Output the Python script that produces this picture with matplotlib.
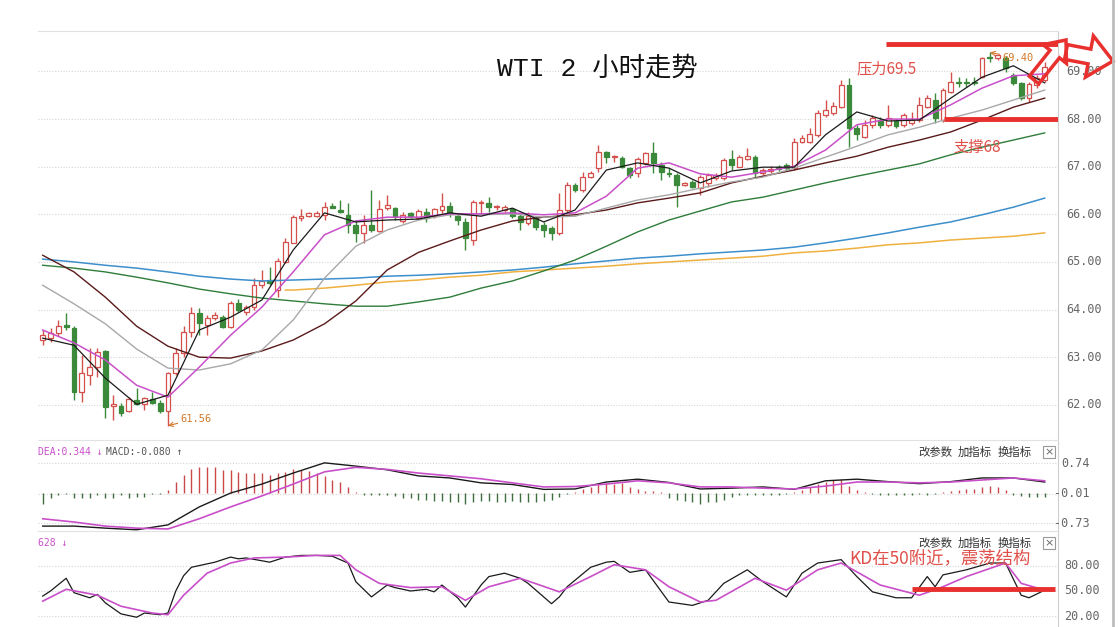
import numpy as np
import matplotlib
matplotlib.use("Agg")
import matplotlib.pyplot as plt
from matplotlib.patches import FancyArrow, Rectangle
from matplotlib.transforms import IdentityTransform, blended_transform_factory

plt.rcParams['font.family'] = ['Noto Sans CJK SC', 'DejaVu Sans']

# ---- candles (2h bars) ----
opens = [63.36, 63.40, 63.51, 63.67, 63.61, 62.27, 62.62, 62.79, 63.13, 61.97,
         61.97, 61.87, 62.10, 62.01, 62.12, 62.04, 61.87, 62.67, 63.09, 63.53,
         63.93, 63.67, 63.82, 63.84, 63.63, 64.14, 63.95, 64.05, 64.51, 64.62,
         64.41, 65.00, 65.40, 65.92, 65.96, 65.96, 65.99, 66.17, 66.09, 65.99,
         65.78, 65.61, 65.78, 65.65, 66.13, 66.13, 65.86, 66.03, 65.92, 66.05,
         65.96, 66.09, 66.17, 65.96, 65.84, 65.46, 66.24, 66.24, 66.15, 66.09,
         66.11, 65.96, 65.82, 65.92, 65.78, 65.71, 65.61, 66.09, 66.62, 66.51,
         66.78, 66.97, 67.31, 67.20, 67.18, 66.97, 66.87, 67.08, 67.29, 67.04,
         66.87, 66.83, 66.62, 66.68, 66.55, 66.66, 66.76, 66.76, 67.16, 66.99,
         67.16, 67.20, 66.87, 66.91, 66.99, 67.04, 66.97, 67.52, 67.52, 67.67,
         68.09, 68.13, 68.25, 68.72, 67.81, 67.62, 67.88, 67.98, 67.88, 67.96,
         67.88, 67.92, 67.98, 68.25, 68.40, 67.98, 68.57, 68.78, 68.78, 68.78,
         68.88, 69.30, 69.28, 69.28, 68.93, 68.76, 68.44, 68.72, 68.82]
highs = [63.57, 63.61, 63.78, 63.93, 63.65, 63.04, 63.19, 63.19, 63.15, 62.20,
         62.04, 62.16, 62.35, 62.16, 62.27, 62.10, 62.69, 63.19, 63.65, 64.05,
         64.03, 63.88, 63.95, 63.88, 64.18, 64.22, 64.10, 64.66, 64.83, 64.89,
         65.08, 65.50, 65.99, 66.11, 66.05, 66.07, 66.26, 66.24, 66.30, 66.24,
         65.88, 65.99, 66.51, 66.30, 66.41, 66.15, 66.05, 66.05, 66.11, 66.13,
         66.13, 66.45, 66.26, 66.03, 65.92, 66.30, 66.30, 66.36, 66.20, 66.20,
         66.13, 66.03, 66.05, 65.96, 65.84, 65.76, 66.45, 66.68, 66.66, 66.89,
         66.91, 67.46, 67.33, 67.25, 67.22, 66.99, 67.20, 67.31, 67.52, 67.10,
         66.97, 66.87, 66.68, 66.72, 66.83, 66.87, 66.87, 67.18, 67.35, 67.25,
         67.39, 67.25, 66.97, 67.01, 67.04, 67.08, 67.60, 67.67, 67.81, 68.19,
         68.40, 68.36, 68.82, 68.86, 67.88, 67.98, 68.09, 68.04, 68.30, 68.00,
         68.13, 68.15, 68.46, 68.51, 68.55, 68.65, 68.99, 68.88, 68.86, 68.88,
         69.30, 69.40, 69.35, 69.33, 68.97, 68.78, 68.78, 68.93, 69.20]
lows = [63.25, 63.32, 63.44, 63.57, 62.10, 62.06, 62.41, 62.58, 61.72, 61.68,
        61.77, 61.85, 61.99, 61.89, 62.01, 61.83, 61.56, 62.62, 63.00, 63.42,
        63.46, 63.46, 63.78, 63.61, 63.61, 63.95, 63.88, 63.99, 64.45, 64.51,
        64.26, 64.98, 65.40, 65.86, 65.94, 65.94, 65.88, 66.13, 66.03, 65.61,
        65.42, 65.40, 65.63, 65.63, 66.09, 65.88, 65.82, 65.92, 65.88, 65.84,
        65.92, 66.03, 65.94, 65.78, 65.25, 65.36, 65.99, 66.05, 66.09, 66.05,
        65.92, 65.67, 65.78, 65.67, 65.52, 65.46, 65.56, 66.05, 66.47, 66.47,
        66.76, 66.89, 67.08, 67.10, 66.97, 66.76, 66.78, 67.04, 66.87, 66.72,
        66.78, 66.15, 66.60, 66.55, 66.41, 66.57, 66.72, 66.72, 66.93, 66.99,
        67.14, 66.78, 66.83, 66.87, 66.91, 66.93, 66.93, 67.50, 67.50, 67.62,
        68.04, 68.09, 68.23, 67.41, 67.56, 67.60, 67.81, 67.81, 67.84, 67.81,
        67.84, 67.88, 67.94, 68.23, 67.92, 67.94, 68.55, 68.67, 68.67, 68.72,
        68.86, 69.20, 69.24, 68.99, 68.72, 68.40, 68.36, 68.65, 68.78]
closes = [63.46, 63.51, 63.65, 63.63, 62.27, 62.67, 62.79, 63.11, 61.95, 62.01,
          61.83, 62.12, 62.01, 62.14, 62.04, 61.87, 62.67, 63.09, 63.53, 63.93,
          63.72, 63.82, 63.88, 63.63, 64.14, 63.99, 64.05, 64.51, 64.60, 64.56,
          65.02, 65.42, 65.94, 65.96, 66.03, 66.03, 66.15, 66.13, 66.05, 65.78,
          65.61, 65.78, 65.67, 66.11, 66.20, 65.94, 65.99, 65.96, 66.07, 65.92,
          66.11, 66.17, 66.03, 65.88, 65.50, 66.26, 66.26, 66.15, 66.17, 66.15,
          65.96, 65.84, 65.96, 65.73, 65.67, 65.61, 66.09, 66.62, 66.51, 66.78,
          66.87, 67.31, 67.20, 67.22, 66.99, 66.83, 67.16, 67.29, 67.08, 66.89,
          66.85, 66.62, 66.66, 66.57, 66.78, 66.83, 66.83, 67.14, 67.04, 67.20,
          67.22, 66.87, 66.93, 66.95, 66.95, 66.97, 67.52, 67.60, 67.69, 68.13,
          68.19, 68.28, 68.72, 67.81, 67.69, 67.88, 68.02, 67.88, 68.02, 67.86,
          68.09, 67.98, 68.30, 68.44, 68.02, 68.61, 68.78, 68.76, 68.76, 68.76,
          69.28, 69.28, 69.35, 69.07, 68.76, 68.44, 68.74, 68.86, 69.10]

# ---- moving averages, read every 4 bars ----
ma_idx = list(range(0, 129, 4))
ma5 = [63.40, 63.25, 62.56, 62.01, 62.20, 63.57, 63.84, 64.20, 65.25, 66.03, 65.84,
       65.88, 65.90, 66.03, 65.96, 66.13, 65.84, 66.09, 66.93, 67.08, 66.97, 66.66,
       66.91, 66.99, 66.99, 67.67, 68.15, 67.96, 67.98, 68.44, 68.88, 69.12, 68.76]
ma10 = [63.57, 63.30, 62.94, 62.41, 62.16, 62.79, 63.46, 64.05, 64.79, 65.57, 65.86,
        65.94, 65.94, 66.01, 66.01, 66.03, 65.99, 66.03, 66.38, 66.97, 67.08, 66.85,
        66.78, 66.89, 67.01, 67.35, 67.88, 68.00, 68.00, 68.30, 68.65, 68.91, 68.95]
ma20 = [64.51, 64.12, 63.70, 63.17, 62.77, 62.73, 62.86, 63.15, 63.78, 64.66, 65.33,
        65.67, 65.88, 65.99, 65.99, 66.01, 65.94, 65.96, 66.13, 66.30, 66.41, 66.55,
        66.68, 66.78, 66.97, 67.20, 67.43, 67.67, 67.83, 68.02, 68.19, 68.40, 68.61]
ma30 = [65.14, 64.79, 64.26, 63.65, 63.23, 63.00, 62.98, 63.13, 63.36, 63.70, 64.18,
        64.83, 65.20, 65.44, 65.67, 65.86, 65.94, 65.99, 66.09, 66.24, 66.34, 66.45,
        66.66, 66.80, 66.93, 67.08, 67.22, 67.41, 67.56, 67.73, 67.98, 68.25, 68.44]
ma60 = [64.93, 64.87, 64.79, 64.68, 64.56, 64.43, 64.33, 64.24, 64.18, 64.12, 64.07,
        64.07, 64.16, 64.26, 64.45, 64.60, 64.81, 65.04, 65.33, 65.63, 65.88, 66.07,
        66.26, 66.36, 66.51, 66.66, 66.80, 66.93, 67.06, 67.25, 67.41, 67.56, 67.71]
ma120 = [65.06, 65.00, 64.93, 64.87, 64.79, 64.70, 64.64, 64.60, 64.62, 64.64, 64.66,
         64.70, 64.72, 64.75, 64.79, 64.83, 64.89, 64.96, 65.02, 65.08, 65.12, 65.17,
         65.21, 65.25, 65.31, 65.40, 65.50, 65.61, 65.73, 65.84, 65.99, 66.15, 66.34]
ma250_idx = [31] + list(range(32, 129, 4))
ma250 = [64.41, 64.41, 64.45, 64.51, 64.58, 64.62, 64.68, 64.72, 64.79, 64.83, 64.87,
         64.91, 64.96, 65.00, 65.04, 65.08, 65.12, 65.19, 65.23, 65.29, 65.36, 65.40,
         65.46, 65.50, 65.54, 65.61]

# ---- MACD ----
dif = [-0.80, -0.80, -0.85, -0.89, -0.77, -0.33, 0.01, 0.23, 0.50, 0.75, 0.67,
       0.58, 0.43, 0.38, 0.26, 0.22, 0.10, 0.11, 0.28, 0.35, 0.27, 0.11,
       0.13, 0.16, 0.10, 0.31, 0.35, 0.29, 0.24, 0.29, 0.38, 0.38, 0.28]
dea = [-0.62, -0.70, -0.80, -0.85, -0.87, -0.62, -0.33, -0.06, 0.23, 0.53, 0.64,
       0.59, 0.50, 0.43, 0.36, 0.26, 0.16, 0.17, 0.23, 0.31, 0.26, 0.16,
       0.16, 0.13, 0.11, 0.18, 0.28, 0.28, 0.26, 0.28, 0.33, 0.38, 0.31]
macd_hist = [-0.26, -0.10, -0.03, -0.01, -0.10, -0.10, -0.10, -0.04, -0.10, -0.12,
             -0.05, -0.12, -0.08, -0.08, -0.02, -0.01, 0.08, 0.29, 0.45, 0.61,
             0.64, 0.65, 0.64, 0.57, 0.57, 0.53, 0.49, 0.51, 0.49, 0.45,
             0.49, 0.53, 0.59, 0.57, 0.55, 0.51, 0.42, 0.33, 0.29, 0.16,
             0.04, -0.03, -0.04, -0.05, -0.05, -0.07, -0.10, -0.12, -0.15, -0.17,
             -0.18, -0.18, -0.20, -0.22, -0.25, -0.20, -0.18, -0.18, -0.20, -0.20,
             -0.18, -0.20, -0.22, -0.20, -0.18, -0.16, -0.08, -0.02, 0.03, 0.10,
             0.15, 0.22, 0.25, 0.22, 0.25, 0.15, 0.10, 0.07, 0.05, 0.03,
             -0.10, -0.15, -0.18, -0.20, -0.25, -0.20, -0.20, -0.15, -0.08, -0.04,
             -0.03, -0.03, -0.05, -0.03, -0.04, -0.02, 0.03, 0.08, 0.15, 0.22,
             0.28, 0.33, 0.35, 0.18, 0.08, 0.03, -0.02, -0.04, -0.03, -0.05,
             -0.04, -0.03, -0.02, -0.04, -0.02, 0.03, 0.05, 0.08, 0.10, 0.12,
             0.15, 0.18, 0.15, 0.08, -0.03, -0.06, -0.08, -0.08, -0.08]

# ---- KD ----
k_idx = [0, 1, 3, 4, 6, 7, 8, 10, 12, 13, 15, 16, 17, 18, 19, 22, 24, 25, 26, 29, 31,
         33, 35, 37, 39, 40, 42, 44, 45, 47, 49, 50, 51, 53, 54, 56, 57, 59, 61, 62,
         65, 66, 67, 70, 72, 73, 75, 77, 80, 83, 85, 87, 90, 92, 95, 97, 99, 102, 104,
         106, 109, 111, 113, 114, 115, 118, 121, 123, 125, 126, 128]
k_val = [44, 50, 65, 48, 42, 46, 36, 23, 19, 24, 22, 24, 50, 68, 78, 84, 90, 88, 89, 84, 90,
         92, 92, 91, 83, 61, 43, 57, 54, 50, 52, 49, 57, 42, 31, 57, 67, 71, 65, 59,
         35, 43, 55, 78, 84, 85, 72, 75, 37, 33, 39, 59, 75, 61, 43, 71, 83, 87, 67,
         49, 42, 42, 67, 55, 69, 75, 83, 83, 45, 42, 51]
d_idx = [0, 3, 7, 10, 14, 16, 18, 21, 24, 27, 31, 35, 38, 40, 43, 47, 51, 54, 57, 61,
         66, 70, 73, 77, 80, 84, 86, 91, 95, 99, 102, 107, 112, 115, 118, 123, 125, 128]
d_val = [38, 52, 45, 32, 24, 22, 45, 71, 83, 89, 90, 92, 92, 75, 59, 54, 55, 39, 55, 65,
         49, 67, 81, 75, 55, 37, 39, 65, 51, 75, 83, 57, 45, 55, 67, 83, 59, 51]

price_ticks = [62, 63, 64, 65, 66, 67, 68, 69]
macd_ticks = [0.74, -0.01, -0.73]
kd_ticks = [80, 50, 20]

RED = '#d4504c'
GREEN = '#3b8a3b'
MARK = '#e8302e'
ORANGE = '#d2782a'
MAG = '#c94fc9'

W, H = 1120, 627
fig = plt.figure(figsize=(W / 100, H / 100), dpi=100)


def box(x0, x1, y0, y1):
    # pixel box (top-left origin) -> figure fraction rect
    return [x0 / W, 1 - y1 / H, (x1 - x0) / W, (y1 - y0) / H]


ax = fig.add_axes(box(38, 1058, 31, 440))
ax_m = fig.add_axes(box(38, 1058, 440, 531), sharex=ax)
ax_k = fig.add_axes(box(38, 1058, 531, 627), sharex=ax)

idx = np.arange(len(opens))
o, h, l, c = (np.array(a) for a in (opens, highs, lows, closes))
up = c >= o
bottom = np.minimum(o, c)
body = np.maximum(np.abs(c - o), 0.012)

ax.vlines(idx[up], l[up], h[up], color=RED, lw=1, zorder=2)
ax.vlines(idx[~up], l[~up], h[~up], color=GREEN, lw=1, zorder=2)
ax.bar(idx[up], body[up], bottom=bottom[up], width=0.62, facecolor='white',
       edgecolor=RED, lw=0.9, zorder=3)
ax.bar(idx[~up], body[~up], bottom=bottom[~up], width=0.62, facecolor=GREEN,
       edgecolor=GREEN, lw=0.9, zorder=3)

ax.plot(ma_idx, ma120, color='#3d8fcc', lw=1.1, zorder=4)
ax.plot(ma250_idx, ma250, color='#f0b040', lw=1.1, zorder=4)
ax.plot(ma_idx, ma60, color='#2f7d3a', lw=1.0, zorder=4)
ax.plot(ma_idx, ma30, color='#5a1a1a', lw=1.0, zorder=4)
ax.plot(ma_idx, ma20, color='#a8a8a8', lw=1.0, zorder=4)
ax.plot(ma_idx, ma10, color=MAG, lw=1.1, zorder=4)
ax.plot(ma_idx, ma5, color='#1a1a1a', lw=0.9, zorder=4)

ax.set_xlim(-0.6, 129.7)
ax.set_ylim(61.26, 69.85)

# support / resistance marks
ax.hlines(69.58, 107.7, 129.7, color=MARK, lw=3.5, zorder=6)
ax.hlines(68.0, 115.2, 129.7, color=MARK, lw=3.5, zorder=6)
ax.text(104.0, 69.06, '压力69.5', color='#e0504a', fontsize=11, va='center', zorder=7)
ax.text(116.3, 67.40, '支撑68', color='#e0504a', fontsize=11, va='center', zorder=7)

ax.annotate('61.56', xy=(16, 61.56), xytext=(9, 5), textcoords='offset points',
            color=ORANGE, fontsize=7.5, family='DejaVu Sans Mono', va='center',
            arrowprops=dict(arrowstyle='->', color=ORANGE, lw=0.8, shrinkA=0, shrinkB=0))
ax.annotate('69.40', xy=(121, 69.40), xytext=(9, -4), textcoords='offset points',
            color=ORANGE, fontsize=7.5, family='DejaVu Sans Mono', va='center',
            arrowprops=dict(arrowstyle='->', color=ORANGE, lw=0.8, shrinkA=0, shrinkB=0))

# MACD panel
hist = np.array(macd_hist)
ax_m.vlines(idx, 0, hist, colors=np.where(hist >= 0, '#c94848', '#3f6f3f'), lw=1)
ax_m.plot(ma_idx, dif, color='#1a1a1a', lw=1.0)
ax_m.plot(ma_idx, dea, color=MAG, lw=1.2)
ax_m.set_ylim(-0.92, 1.31)

# KD panel
ax_k.plot(k_idx, k_val, color='#1a1a1a', lw=0.9)
ax_k.plot(d_idx, d_val, color=MAG, lw=1.2)
ax_k.hlines(52.4, 111, 129.3, color=MARK, lw=3.5, zorder=6)
ax_k.text(103.0, 89, 'KD在50附近，震荡结构', color='#e0504a', fontsize=12.5, va='center')
ax_k.set_ylim(7.5, 120.8)

mono = 'DejaVu Sans Mono'
for a, ticks, fmt, xpos, ha in ((ax, price_ticks, '%.2f', 1066, 'left'),
                                (ax_m, macd_ticks, '%.2f', 1090, 'right'),
                                (ax_k, kd_ticks, '%.2f', 1064, 'left')):
    a.set_yticks(ticks)
    a.tick_params(left=False, right=False, bottom=False, labelleft=False,
                  labelbottom=False)
    a.grid(axis='y', color='#d6d6d6', lw=0.8, linestyle=(0, (1, 1.5)))
    a.set_axisbelow(True)
    tr = blended_transform_factory(fig.transFigure, a.transData)
    for t in ticks:
        a.text(xpos / W, t, fmt % t, transform=tr, ha=ha, va='center',
               fontsize=8.5, color='#666666', family=mono)
    for s in ('left', 'bottom'):
        a.spines[s].set_visible(False)
    a.spines['top'].set_color('#e2e2e2')
    a.spines['right'].set_color('#cfcfcf')

# panel headers
fig.text(38 / W, 1 - 452 / H, 'DEA:0.344 ↓', color=MAG, fontsize=7, family=mono, va='center')
fig.text(106 / W, 1 - 452 / H, 'MACD:-0.080 ↑', color='#555555', fontsize=7, family=mono, va='center')
fig.text(38 / W, 1 - 543 / H, '628 ↓', color=MAG, fontsize=7, family=mono, va='center')
for yy in (452, 543):
    for xx, s in ((918, '改参数'), (958, '加指标'), (998, '换指标')):
        fig.text(xx / W, 1 - yy / H, s, color='#333333', fontsize=8.2, va='center')
    fig.patches.append(Rectangle((1043 / W, 1 - (yy + 6) / H), 12 / W, 12 / H,
                                 transform=fig.transFigure, fill=False,
                                 ec='#999999', lw=0.8))
    fig.text(1049 / W, 1 - yy / H, '×', color='#666666', fontsize=8,
             family='DejaVu Sans', ha='center', va='center')

# title
fig.text(597 / W, 1 - 68 / H, 'WTI 2 小时走势', ha='center', va='center', fontsize=19,
         color='#111111', family=['Liberation Mono', 'Noto Sans CJK SC'])

# hollow arrows (pixel space, origin bottom-left)
fig.patches.append(FancyArrow(1034, H - 80, 32, 40, width=12, head_width=30,
                              head_length=18, length_includes_head=True,
                              fill=False, ec=MARK, lw=2.5,
                              transform=IdentityTransform()))
fig.patches.append(FancyArrow(1066, H - 52, 47, -9, width=15, head_width=42,
                              head_length=24, length_includes_head=True,
                              fill=False, ec=MARK, lw=2.5,
                              transform=IdentityTransform()))

# window edge at far right
fig.add_artist(plt.Line2D([1113 / W, 1113 / W], [0, 1], color='#bdbdbd', lw=2,
                          transform=fig.transFigure))

fig.savefig('out.png', dpi=100)
